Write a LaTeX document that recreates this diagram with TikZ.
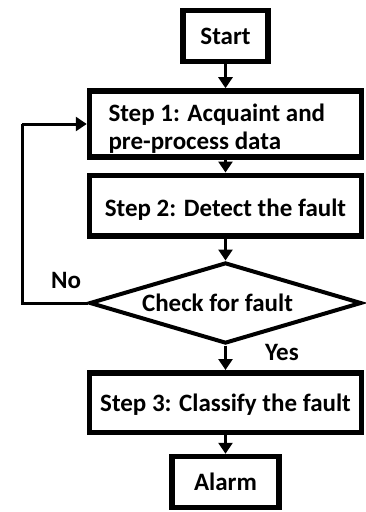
\documentclass[tikz,border=0pt]{standalone}
\usepackage{fontspec}
\setmainfont{Carlito}
\usetikzlibrary{positioning,arrows.meta,shapes.geometric}
\tikzset{
  flowarrow/.style={-{Triangle[length=11pt, width=14pt]}, line width=3pt},
  loopline/.style={line width=3pt},
  stepbox/.style={draw, line width=5.5pt, minimum width=272pt, minimum height=60.5pt, align=center},
  endbox/.style={draw, line width=5.5pt, minimum height=51pt, align=center},
  checknode/.style={draw, diamond, aspect=3.4, line width=4pt, inner sep=0pt, minimum width=272pt, minimum height=81pt},
  branchlabel/.style={inner sep=0pt}
}

\begin{document}
\begin{tikzpicture}[x=1pt, y=-1pt, every node/.style={font=\fontsize{25}{28}\selectfont\bfseries}]
      \useasboundingbox (0,0) rectangle (365,512);
      \node[endbox, minimum width=85pt] (start) at (225.5,36) {Start};
      \node[stepbox, minimum height=62pt, text width=234pt, inner xsep=19pt, align=flush left, text height=27.5pt] (step1) at (225.5,124) {Step 1: Acquaint and\\pre-process data};
      \node[stepbox, text height=25pt] (step2) at (225.5,205.5) {Step 2: Detect the fault};
      \node[checknode] (check) at (225.5,303) {Check for fault\kern16pt};
      \node[stepbox, minimum height=59.5pt, text height=21pt] (step3) at (225.5,402.5) {Step 3: Classify the fault};
      \node[endbox, minimum width=107pt] (alarm) at (225.5,482) {Alarm};
      \coordinate (back) at (22,124);
      \draw[flowarrow] (start) -- (step1);
      \draw[flowarrow] (step1) -- (step2);
      \draw[flowarrow] (step2) -- (check);
      \draw[flowarrow] (check) -- (step3);
      \draw[flowarrow] (step3) -- (alarm);
      \draw[loopline] (check.west) -| (back);
      \draw[flowarrow] (back) -- (step1.west);
      \node[branchlabel] (yes) at (282,352) {Yes};
      \node[branchlabel] (no) at (66,280) {No};
    \end{tikzpicture}
\end{document}
